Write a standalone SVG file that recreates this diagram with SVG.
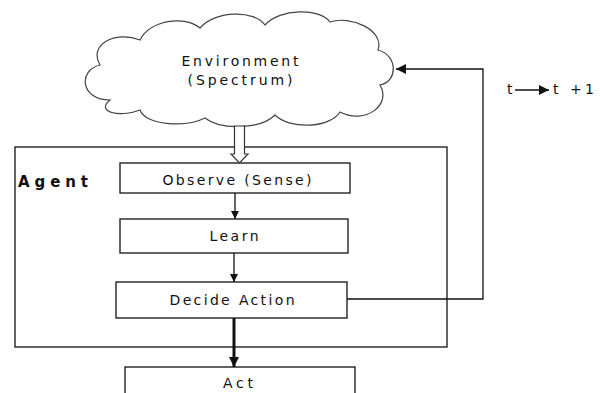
<svg xmlns="http://www.w3.org/2000/svg" width="600" height="393" viewBox="0 0 600 393">
<style>
.box{fill:#fff;stroke:#111;stroke-width:1.3}
.lbl{font-family:"DejaVu Sans",sans-serif;font-size:14px;fill:#111;text-anchor:middle}
.ln{fill:none;stroke:#111;stroke-width:1.3}
</style>
<defs>
<marker id="ah" viewBox="0 0 10 10" refX="10" refY="5" markerWidth="8" markerHeight="8" markerUnits="userSpaceOnUse" orient="auto"><path d="M0,0 L10,5 L0,10 z" fill="#111"/></marker>
<marker id="ah2" viewBox="0 0 10 10" refX="10" refY="5" markerWidth="10" markerHeight="10" markerUnits="userSpaceOnUse" orient="auto"><path d="M0,0 L10,5 L0,10 z" fill="#111"/></marker>
</defs>
<rect width="600" height="393" fill="#fff"/>
<g id="environment">
<path d="M110,100 C80,100 78,70 100,65 C88,45 115,30 140,40 C150,20 185,15 200,28 C215,10 255,10 265,25 C280,8 320,8 330,22 C350,15 385,30 378,50 C398,55 398,82 380,85 C392,105 365,125 340,112 C330,128 290,130 275,115 C260,130 220,130 205,118 C185,128 145,125 140,110 C120,118 95,112 110,100 Z" fill="#fff" stroke="#444" stroke-width="1.2"/>
<text class="lbl" x="240" y="66" textLength="117" lengthAdjust="spacing">Environment</text>
<text class="lbl" x="240" y="85" textLength="105" lengthAdjust="spacing">(Spectrum)</text>
</g>
<g id="agent">
<rect x="15" y="147" width="432" height="200" fill="none" stroke="#111" stroke-width="1.3"/>
<text x="18" y="187" font-family="DejaVu Sans,sans-serif" font-size="15" font-weight="bold" fill="#111" textLength="70" lengthAdjust="spacing">Agent</text>
</g>
<g id="observe">
<rect class="box" x="120" y="163" width="230" height="30"/>
<text class="lbl" x="237" y="185" textLength="149" lengthAdjust="spacing">Observe (Sense)</text>
</g>
<g id="learn">
<rect class="box" x="120" y="219" width="228" height="34"/>
<text class="lbl" x="234" y="241" textLength="49" lengthAdjust="spacing">Learn</text>
</g>
<g id="decide">
<rect class="box" x="116" y="282" width="231" height="36"/>
<text class="lbl" x="232" y="305" textLength="125" lengthAdjust="spacing">Decide Action</text>
</g>
<g id="act">
<rect class="box" x="125" y="367" width="230" height="40"/>
<text class="lbl" x="238" y="388" textLength="30" lengthAdjust="spacing">Act</text>
</g>
<g id="connectors">
<path d="M234.5,126 V154 H231 L239.5,163 L248,154 H244.5 V126 Z" fill="#fff" stroke="#333" stroke-width="1.2"/>
<line class="ln" x1="235" y1="193" x2="235" y2="219" marker-end="url(#ah)"/>
<line class="ln" x1="234" y1="253" x2="234" y2="282" marker-end="url(#ah)"/>
<line x1="234" y1="318" x2="234" y2="367" stroke="#111" stroke-width="3" marker-end="url(#ah2)"/>
<polyline class="ln" points="347,299 483,299 483,69 396,69" marker-end="url(#ah2)"/>
<line class="ln" x1="515" y1="90" x2="549" y2="90" marker-end="url(#ah2)"/>
</g>
<text x="507" y="94" font-family="DejaVu Sans,sans-serif" font-size="14" fill="#111">t</text>
<text x="553" y="94" font-family="DejaVu Sans,sans-serif" font-size="14" fill="#111" textLength="41" lengthAdjust="spacing">t +1</text>
</svg>
